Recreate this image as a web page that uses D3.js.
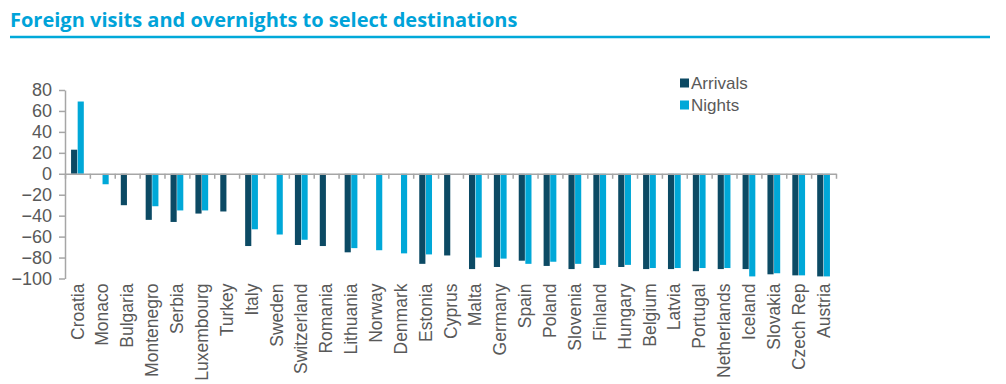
<!DOCTYPE html>
<html>
<head>
<meta charset="utf-8">
<script src="https://cdn.jsdelivr.net/npm/d3@7"></script>
<style>
  body { margin: 0; background: #fff; }
  text { font-family: "Liberation Sans", Arial, sans-serif; }
</style>
</head>
<body>
<div id="chart"></div>
<script>
// Foreign visits and overnights, % change

var countries = ["Croatia", "Monaco", "Bulgaria", "Montenegro", "Serbia", "Luxembourg", "Turkey", "Italy",
  "Sweden", "Switzerland", "Romania", "Lithuania", "Norway", "Denmark", "Estonia", "Cyprus", "Malta",
  "Germany", "Spain", "Poland", "Slovenia", "Finland", "Hungary", "Belgium", "Latvia", "Portugal",
  "Netherlands", "Iceland", "Slovakia", "Czech Rep", "Austria"];
var arrivals = [23, null, -30, -44, -46, -38, -36, -69, null, -68, -69, -75, null, null, -86, -78, -91,
  -89, -83, -88, -91, -90, -89, -91, -91, -93, -91, -91, -96, -97, -98];
var nights = [69, -10, null, -31, -35, -35, null, -53, -58, -63, null, -71, -73, -76, -77, null, -80,
  -81, -86, -84, -86, -87, -87, -90, -90, -90, -90, -98, -95, -97, -98];
var series = ["Arrivals", "Nights"];
var yTicks = [80, 60, 40, 20, 0, -20, -40, -60, -80, -100];

var colors = {Arrivals: "#0c4a64", Nights: "#00a8d8"};
var W = 1006, H = 384;

var svg = d3.select("#chart").append("svg")
    .attr("width", W)
    .attr("height", H);

// title + rule
svg.append("text")
    .attr("x", 10)
    .attr("y", 27)
    .attr("fill", "#00a3d9")
    .attr("font-size", "20px")
    .attr("font-weight", "bold")
    .style("font-family", "'Liberation Sans Narrow', 'Open Sans', sans-serif")
    .text("Foreign visits and overnights to select destinations");

svg.append("line")
    .attr("x1", 10).attr("x2", 990)
    .attr("y1", 37).attr("y2", 37)
    .attr("stroke", "#00a9d9")
    .attr("stroke-width", 2.5);

var plotLeft = 65, plotRight = 836, plotTop = 90, plotBottom = 278.5;

var x0 = d3.scaleBand()
    .domain(countries)
    .range([plotLeft, plotRight])
    .paddingInner(0.45)
    .paddingOuter(0.225);

var x1 = d3.scaleBand()
    .domain(series)
    .range([0, x0.bandwidth()])
    .padding(0.07);

var y = d3.scaleLinear()
    .domain([-100, 80])
    .range([plotBottom, plotTop]);

var rows = countries.map(function(c, i) {
  return {country: c, Arrivals: arrivals[i], Nights: nights[i]};
});

// bars
svg.append("g")
  .selectAll("g")
  .data(rows)
  .enter().append("g")
    .attr("transform", function(d) { return "translate(" + x0(d.country) + ",0)"; })
  .selectAll("rect")
  .data(function(d) {
    return series.filter(function(k) { return d[k] != null; })
      .map(function(k) { return {key: k, value: d[k]}; });
  })
  .enter().append("rect")
    .attr("x", function(d) { return x1(d.key); })
    .attr("y", function(d) { return y(Math.max(0, d.value)); })
    .attr("width", x1.bandwidth())
    .attr("height", function(d) { return Math.abs(y(d.value) - y(0)); })
    .attr("fill", function(d) { return colors[d.key]; });

// y axis
var yAxis = svg.append("g")
    .attr("transform", "translate(" + plotLeft + ",0)")
    .call(d3.axisLeft(y).tickValues(yTicks).tickSize(6).tickSizeOuter(0).tickPadding(7));
yAxis.select(".domain").attr("stroke", "#a6a6a6").attr("stroke-width", 1.5);
yAxis.selectAll(".tick line").attr("stroke", "#a6a6a6").attr("stroke-width", 1.5);
yAxis.selectAll(".tick text")
    .attr("fill", "#595959")
    .attr("font-size", "18px")
    .style("font-family", "'Liberation Sans', Arial, sans-serif");

// zero line with ticks between categories
var edge = d3.scaleLinear().domain([0, countries.length]).range([plotLeft, plotRight]);
var xAxis = svg.append("g")
    .attr("transform", "translate(0," + y(0) + ")")
    .call(d3.axisBottom(edge).tickValues(d3.range(countries.length + 1)).tickSize(5).tickSizeOuter(0).tickFormat(""));
xAxis.select(".domain").attr("stroke", "#a6a6a6").attr("stroke-width", 1.5);
xAxis.selectAll(".tick line").attr("stroke", "#a6a6a6").attr("stroke-width", 1.5);

// category labels
var labels = svg.append("g")
    .attr("transform", "translate(0," + (plotBottom + 5) + ")")
    .call(d3.axisBottom(x0).tickSize(0).tickPadding(0));
labels.select(".domain").remove();
labels.selectAll(".tick text")
    .attr("fill", "#595959")
    .attr("font-size", "17.5px")
    .style("font-family", "'Liberation Sans', Arial, sans-serif")
    .attr("text-anchor", "end")
    .attr("transform", "rotate(-90)")
    .attr("x", 0)
    .attr("y", 0)
    .attr("dy", "0.35em");

// legend
var legend = svg.append("g")
    .selectAll("g")
    .data(series)
    .enter().append("g")
    .attr("transform", function(d, i) { return "translate(680," + (83 + i * 22) + ")"; });
legend.append("rect")
    .attr("x", 0).attr("y", -4.5)
    .attr("width", 9).attr("height", 9)
    .attr("fill", function(d) { return colors[d]; });
legend.append("text")
    .attr("x", 11)
    .attr("y", 0)
    .attr("dy", "0.35em")
    .attr("fill", "#595959")
    .attr("font-size", "17px")
    .text(function(d) { return d; });
</script>
</body>
</html>
